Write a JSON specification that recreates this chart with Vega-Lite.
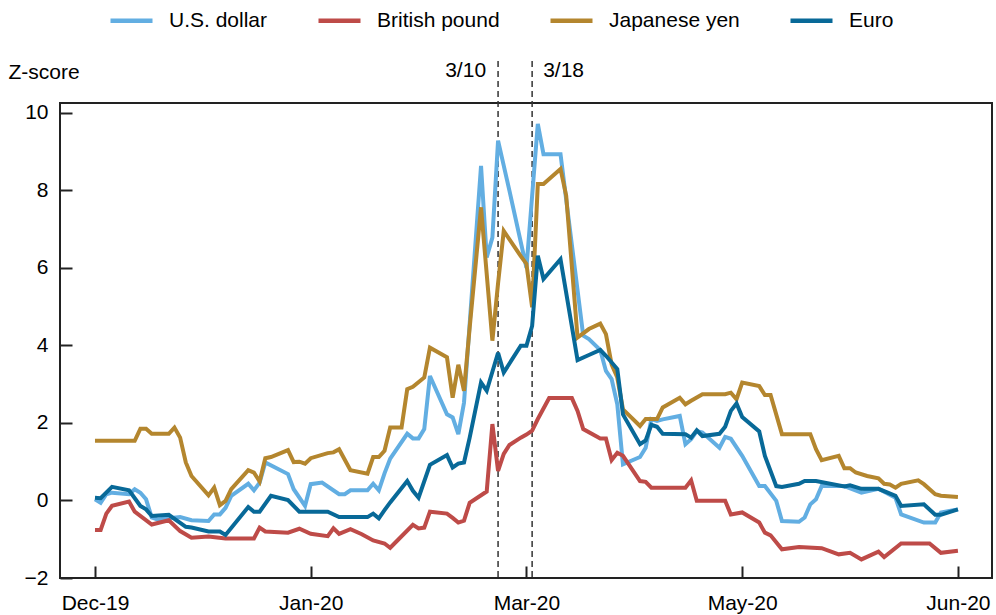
{
  "$schema": "https://vega.github.io/schema/vega-lite/v6.json",
  "autosize": {"type": "none"},
  "width": 932,
  "height": 475,
  "padding": {"left": 60, "top": 103, "right": 4, "bottom": 37},
  "config": {
    "font": "Liberation Sans",
    "view": {"stroke": "#222", "strokeWidth": 2},
    "axis": {"grid": false, "domain": false, "tickColor": "#222", "tickWidth": 2, "tickSize": -12, "labelFontSize": 21, "labelColor": "#000", "labelFont": "Liberation Sans"}
  },
  "datasets": {
    "fx": [
      {"s":"U.S. dollar","d":0,"z":0.03},{"s":"U.S. dollar","d":1,"z":-0.06},{"s":"U.S. dollar","d":2,"z":0.16},{"s":"U.S. dollar","d":3,"z":0.20},{"s":"U.S. dollar","d":6,"z":0.16},{"s":"U.S. dollar","d":7,"z":0.29},{"s":"U.S. dollar","d":8,"z":0.20},{"s":"U.S. dollar","d":9,"z":0.03},{"s":"U.S. dollar","d":10,"z":-0.44},{"s":"U.S. dollar","d":11,"z":-0.49},{"s":"U.S. dollar","d":15,"z":-0.43},{"s":"U.S. dollar","d":17,"z":-0.51},{"s":"U.S. dollar","d":20,"z":-0.53},{"s":"U.S. dollar","d":21,"z":-0.36},{"s":"U.S. dollar","d":22,"z":-0.36},{"s":"U.S. dollar","d":23,"z":-0.19},{"s":"U.S. dollar","d":24,"z":0.12},{"s":"U.S. dollar","d":27,"z":0.43},{"s":"U.S. dollar","d":28,"z":0.26},{"s":"U.S. dollar","d":29,"z":0.46},{"s":"U.S. dollar","d":30,"z":0.98},{"s":"U.S. dollar","d":34,"z":0.68},{"s":"U.S. dollar","d":35,"z":0.29},{"s":"U.S. dollar","d":37,"z":-0.14},{"s":"U.S. dollar","d":38,"z":0.42},{"s":"U.S. dollar","d":40,"z":0.46},{"s":"U.S. dollar","d":43,"z":0.16},{"s":"U.S. dollar","d":44,"z":0.16},{"s":"U.S. dollar","d":45,"z":0.26},{"s":"U.S. dollar","d":48,"z":0.26},{"s":"U.S. dollar","d":49,"z":0.43},{"s":"U.S. dollar","d":50,"z":0.26},{"s":"U.S. dollar","d":51,"z":0.7},{"s":"U.S. dollar","d":52,"z":1.08},{"s":"U.S. dollar","d":55,"z":1.72},{"s":"U.S. dollar","d":56,"z":1.60},{"s":"U.S. dollar","d":57,"z":1.60},{"s":"U.S. dollar","d":58,"z":1.84},{"s":"U.S. dollar","d":59,"z":3.21},{"s":"U.S. dollar","d":62,"z":2.22},{"s":"U.S. dollar","d":63,"z":2.14},{"s":"U.S. dollar","d":64,"z":1.71},{"s":"U.S. dollar","d":65,"z":2.52},{"s":"U.S. dollar","d":68,"z":8.63},{"s":"U.S. dollar","d":69,"z":6.27},{"s":"U.S. dollar","d":70,"z":6.78},{"s":"U.S. dollar","d":71,"z":9.28},{"s":"U.S. dollar","d":73,"z":7.99},{"s":"U.S. dollar","d":76,"z":6.0},{"s":"U.S. dollar","d":78,"z":9.71},{"s":"U.S. dollar","d":79,"z":8.93},{"s":"U.S. dollar","d":82,"z":8.93},{"s":"U.S. dollar","d":86,"z":4.25},{"s":"U.S. dollar","d":87,"z":4.16},{"s":"U.S. dollar","d":89,"z":3.88},{"s":"U.S. dollar","d":90,"z":3.34},{"s":"U.S. dollar","d":91,"z":3.13},{"s":"U.S. dollar","d":92,"z":2.48},{"s":"U.S. dollar","d":93,"z":0.93},{"s":"U.S. dollar","d":96,"z":1.12},{"s":"U.S. dollar","d":97,"z":1.36},{"s":"U.S. dollar","d":98,"z":2.10},{"s":"U.S. dollar","d":99,"z":2.05},{"s":"U.S. dollar","d":100,"z":2.09},{"s":"U.S. dollar","d":103,"z":2.18},{"s":"U.S. dollar","d":104,"z":1.45},{"s":"U.S. dollar","d":105,"z":1.58},{"s":"U.S. dollar","d":106,"z":1.79},{"s":"U.S. dollar","d":107,"z":1.75},{"s":"U.S. dollar","d":110,"z":1.36},{"s":"U.S. dollar","d":111,"z":1.64},{"s":"U.S. dollar","d":112,"z":1.59},{"s":"U.S. dollar","d":114,"z":1.15},{"s":"U.S. dollar","d":117,"z":0.37},{"s":"U.S. dollar","d":118,"z":0.37},{"s":"U.S. dollar","d":120,"z":-0.01},{"s":"U.S. dollar","d":121,"z":-0.53},{"s":"U.S. dollar","d":124,"z":-0.55},{"s":"U.S. dollar","d":125,"z":-0.44},{"s":"U.S. dollar","d":126,"z":-0.10},{"s":"U.S. dollar","d":127,"z":0.03},{"s":"U.S. dollar","d":128,"z":0.37},{"s":"U.S. dollar","d":132,"z":0.37},{"s":"U.S. dollar","d":135,"z":0.20},{"s":"U.S. dollar","d":138,"z":0.30},{"s":"U.S. dollar","d":141,"z":0.07},{"s":"U.S. dollar","d":142,"z":-0.36},{"s":"U.S. dollar","d":146,"z":-0.57},{"s":"U.S. dollar","d":148,"z":-0.57},{"s":"U.S. dollar","d":149,"z":-0.31},{"s":"U.S. dollar","d":152,"z":-0.23},
      {"s":"British pound","d":0,"z":-0.76},{"s":"British pound","d":1,"z":-0.76},{"s":"British pound","d":2,"z":-0.34},{"s":"British pound","d":3,"z":-0.14},{"s":"British pound","d":6,"z":-0.03},{"s":"British pound","d":7,"z":-0.29},{"s":"British pound","d":10,"z":-0.62},{"s":"British pound","d":13,"z":-0.51},{"s":"British pound","d":15,"z":-0.79},{"s":"British pound","d":17,"z":-0.96},{"s":"British pound","d":20,"z":-0.93},{"s":"British pound","d":23,"z":-0.98},{"s":"British pound","d":28,"z":-0.98},{"s":"British pound","d":29,"z":-0.70},{"s":"British pound","d":30,"z":-0.80},{"s":"British pound","d":34,"z":-0.83},{"s":"British pound","d":36,"z":-0.73},{"s":"British pound","d":38,"z":-0.86},{"s":"British pound","d":41,"z":-0.92},{"s":"British pound","d":42,"z":-0.72},{"s":"British pound","d":43,"z":-0.86},{"s":"British pound","d":45,"z":-0.74},{"s":"British pound","d":47,"z":-0.87},{"s":"British pound","d":49,"z":-1.03},{"s":"British pound","d":51,"z":-1.11},{"s":"British pound","d":52,"z":-1.22},{"s":"British pound","d":56,"z":-0.63},{"s":"British pound","d":57,"z":-0.72},{"s":"British pound","d":58,"z":-0.70},{"s":"British pound","d":59,"z":-0.29},{"s":"British pound","d":62,"z":-0.34},{"s":"British pound","d":63,"z":-0.45},{"s":"British pound","d":64,"z":-0.57},{"s":"British pound","d":65,"z":-0.52},{"s":"British pound","d":66,"z":-0.06},{"s":"British pound","d":69,"z":0.23},{"s":"British pound","d":70,"z":1.97},{"s":"British pound","d":71,"z":0.76},{"s":"British pound","d":72,"z":1.2},{"s":"British pound","d":73,"z":1.43},{"s":"British pound","d":75,"z":1.62},{"s":"British pound","d":76,"z":1.70},{"s":"British pound","d":77,"z":1.80},{"s":"British pound","d":78,"z":2.10},{"s":"British pound","d":80,"z":2.64},{"s":"British pound","d":84,"z":2.64},{"s":"British pound","d":85,"z":2.31},{"s":"British pound","d":86,"z":1.84},{"s":"British pound","d":89,"z":1.60},{"s":"British pound","d":90,"z":1.60},{"s":"British pound","d":91,"z":1.04},{"s":"British pound","d":92,"z":1.23},{"s":"British pound","d":93,"z":1.15},{"s":"British pound","d":96,"z":0.50},{"s":"British pound","d":97,"z":0.48},{"s":"British pound","d":98,"z":0.33},{"s":"British pound","d":104,"z":0.33},{"s":"British pound","d":105,"z":0.52},{"s":"British pound","d":106,"z":-0.01},{"s":"British pound","d":111,"z":-0.01},{"s":"British pound","d":112,"z":-0.36},{"s":"British pound","d":114,"z":-0.31},{"s":"British pound","d":117,"z":-0.57},{"s":"British pound","d":118,"z":-0.83},{"s":"British pound","d":119,"z":-0.90},{"s":"British pound","d":121,"z":-1.26},{"s":"British pound","d":124,"z":-1.20},{"s":"British pound","d":128,"z":-1.23},{"s":"British pound","d":131,"z":-1.39},{"s":"British pound","d":133,"z":-1.35},{"s":"British pound","d":135,"z":-1.52},{"s":"British pound","d":138,"z":-1.32},{"s":"British pound","d":139,"z":-1.46},{"s":"British pound","d":142,"z":-1.11},{"s":"British pound","d":147,"z":-1.11},{"s":"British pound","d":149,"z":-1.35},{"s":"British pound","d":152,"z":-1.30},
      {"s":"Japanese yen","d":0,"z":1.54},{"s":"Japanese yen","d":7,"z":1.54},{"s":"Japanese yen","d":8,"z":1.85},{"s":"Japanese yen","d":9,"z":1.85},{"s":"Japanese yen","d":10,"z":1.72},{"s":"Japanese yen","d":13,"z":1.72},{"s":"Japanese yen","d":14,"z":1.88},{"s":"Japanese yen","d":15,"z":1.62},{"s":"Japanese yen","d":16,"z":0.98},{"s":"Japanese yen","d":17,"z":0.63},{"s":"Japanese yen","d":20,"z":0.13},{"s":"Japanese yen","d":21,"z":0.33},{"s":"Japanese yen","d":22,"z":-0.12},{"s":"Japanese yen","d":23,"z":-0.01},{"s":"Japanese yen","d":24,"z":0.29},{"s":"Japanese yen","d":27,"z":0.78},{"s":"Japanese yen","d":28,"z":0.72},{"s":"Japanese yen","d":29,"z":0.49},{"s":"Japanese yen","d":30,"z":1.09},{"s":"Japanese yen","d":31,"z":1.12},{"s":"Japanese yen","d":34,"z":1.30},{"s":"Japanese yen","d":35,"z":0.99},{"s":"Japanese yen","d":36,"z":1.0},{"s":"Japanese yen","d":37,"z":0.95},{"s":"Japanese yen","d":38,"z":1.09},{"s":"Japanese yen","d":41,"z":1.22},{"s":"Japanese yen","d":42,"z":1.24},{"s":"Japanese yen","d":43,"z":1.32},{"s":"Japanese yen","d":45,"z":0.78},{"s":"Japanese yen","d":48,"z":0.69},{"s":"Japanese yen","d":49,"z":1.12},{"s":"Japanese yen","d":50,"z":1.12},{"s":"Japanese yen","d":51,"z":1.28},{"s":"Japanese yen","d":52,"z":1.88},{"s":"Japanese yen","d":54,"z":1.88},{"s":"Japanese yen","d":55,"z":2.87},{"s":"Japanese yen","d":56,"z":2.93},{"s":"Japanese yen","d":58,"z":3.17},{"s":"Japanese yen","d":59,"z":3.94},{"s":"Japanese yen","d":62,"z":3.69},{"s":"Japanese yen","d":63,"z":2.65},{"s":"Japanese yen","d":64,"z":3.5},{"s":"Japanese yen","d":65,"z":2.83},{"s":"Japanese yen","d":66,"z":4.46},{"s":"Japanese yen","d":68,"z":7.56},{"s":"Japanese yen","d":70,"z":4.12},{"s":"Japanese yen","d":71,"z":5.6},{"s":"Japanese yen","d":72,"z":6.95},{"s":"Japanese yen","d":75,"z":6.3},{"s":"Japanese yen","d":76,"z":6.1},{"s":"Japanese yen","d":77,"z":4.98},{"s":"Japanese yen","d":78,"z":8.16},{"s":"Japanese yen","d":79,"z":8.16},{"s":"Japanese yen","d":82,"z":8.55},{"s":"Japanese yen","d":83,"z":7.86},{"s":"Japanese yen","d":85,"z":4.20},{"s":"Japanese yen","d":87,"z":4.42},{"s":"Japanese yen","d":89,"z":4.56},{"s":"Japanese yen","d":90,"z":4.29},{"s":"Japanese yen","d":91,"z":3.51},{"s":"Japanese yen","d":92,"z":3.17},{"s":"Japanese yen","d":93,"z":2.35},{"s":"Japanese yen","d":96,"z":1.92},{"s":"Japanese yen","d":97,"z":2.10},{"s":"Japanese yen","d":99,"z":2.10},{"s":"Japanese yen","d":100,"z":2.40},{"s":"Japanese yen","d":103,"z":2.65},{"s":"Japanese yen","d":104,"z":2.48},{"s":"Japanese yen","d":105,"z":2.57},{"s":"Japanese yen","d":107,"z":2.74},{"s":"Japanese yen","d":111,"z":2.74},{"s":"Japanese yen","d":112,"z":2.78},{"s":"Japanese yen","d":113,"z":2.61},{"s":"Japanese yen","d":114,"z":3.04},{"s":"Japanese yen","d":117,"z":2.95},{"s":"Japanese yen","d":118,"z":2.72},{"s":"Japanese yen","d":119,"z":2.72},{"s":"Japanese yen","d":121,"z":1.71},{"s":"Japanese yen","d":126,"z":1.71},{"s":"Japanese yen","d":127,"z":1.32},{"s":"Japanese yen","d":128,"z":1.04},{"s":"Japanese yen","d":131,"z":1.15},{"s":"Japanese yen","d":132,"z":0.83},{"s":"Japanese yen","d":133,"z":0.83},{"s":"Japanese yen","d":134,"z":0.72},{"s":"Japanese yen","d":136,"z":0.63},{"s":"Japanese yen","d":138,"z":0.57},{"s":"Japanese yen","d":139,"z":0.43},{"s":"Japanese yen","d":140,"z":0.41},{"s":"Japanese yen","d":141,"z":0.33},{"s":"Japanese yen","d":142,"z":0.43},{"s":"Japanese yen","d":145,"z":0.52},{"s":"Japanese yen","d":146,"z":0.42},{"s":"Japanese yen","d":148,"z":0.16},{"s":"Japanese yen","d":149,"z":0.12},{"s":"Japanese yen","d":152,"z":0.09},
      {"s":"Euro","d":0,"z":0.07},{"s":"Euro","d":1,"z":0.06},{"s":"Euro","d":3,"z":0.35},{"s":"Euro","d":6,"z":0.26},{"s":"Euro","d":8,"z":-0.14},{"s":"Euro","d":9,"z":-0.23},{"s":"Euro","d":10,"z":-0.40},{"s":"Euro","d":13,"z":-0.37},{"s":"Euro","d":16,"z":-0.68},{"s":"Euro","d":17,"z":-0.70},{"s":"Euro","d":20,"z":-0.80},{"s":"Euro","d":22,"z":-0.80},{"s":"Euro","d":23,"z":-0.89},{"s":"Euro","d":27,"z":-0.17},{"s":"Euro","d":28,"z":-0.29},{"s":"Euro","d":29,"z":-0.29},{"s":"Euro","d":31,"z":0.12},{"s":"Euro","d":34,"z":0.01},{"s":"Euro","d":36,"z":-0.29},{"s":"Euro","d":41,"z":-0.29},{"s":"Euro","d":43,"z":-0.43},{"s":"Euro","d":48,"z":-0.43},{"s":"Euro","d":49,"z":-0.34},{"s":"Euro","d":50,"z":-0.46},{"s":"Euro","d":51,"z":-0.25},{"s":"Euro","d":52,"z":-0.05},{"s":"Euro","d":55,"z":0.50},{"s":"Euro","d":56,"z":0.25},{"s":"Euro","d":57,"z":0.07},{"s":"Euro","d":59,"z":0.92},{"s":"Euro","d":62,"z":1.17},{"s":"Euro","d":63,"z":0.85},{"s":"Euro","d":64,"z":0.95},{"s":"Euro","d":65,"z":0.98},{"s":"Euro","d":66,"z":1.62},{"s":"Euro","d":68,"z":3.04},{"s":"Euro","d":69,"z":2.83},{"s":"Euro","d":71,"z":3.81},{"s":"Euro","d":72,"z":3.30},{"s":"Euro","d":75,"z":3.99},{"s":"Euro","d":76,"z":3.99},{"s":"Euro","d":77,"z":4.5},{"s":"Euro","d":78,"z":6.31},{"s":"Euro","d":79,"z":5.71},{"s":"Euro","d":82,"z":6.22},{"s":"Euro","d":85,"z":3.62},{"s":"Euro","d":87,"z":3.75},{"s":"Euro","d":89,"z":3.88},{"s":"Euro","d":90,"z":3.73},{"s":"Euro","d":92,"z":3.39},{"s":"Euro","d":93,"z":2.22},{"s":"Euro","d":96,"z":1.45},{"s":"Euro","d":97,"z":1.55},{"s":"Euro","d":98,"z":1.95},{"s":"Euro","d":99,"z":1.90},{"s":"Euro","d":100,"z":1.72},{"s":"Euro","d":104,"z":1.71},{"s":"Euro","d":105,"z":1.62},{"s":"Euro","d":106,"z":1.81},{"s":"Euro","d":107,"z":1.66},{"s":"Euro","d":110,"z":1.72},{"s":"Euro","d":111,"z":1.90},{"s":"Euro","d":112,"z":2.31},{"s":"Euro","d":113,"z":2.50},{"s":"Euro","d":114,"z":2.15},{"s":"Euro","d":117,"z":1.78},{"s":"Euro","d":118,"z":1.15},{"s":"Euro","d":120,"z":0.37},{"s":"Euro","d":121,"z":0.35},{"s":"Euro","d":124,"z":0.43},{"s":"Euro","d":125,"z":0.50},{"s":"Euro","d":127,"z":0.50},{"s":"Euro","d":132,"z":0.36},{"s":"Euro","d":133,"z":0.39},{"s":"Euro","d":135,"z":0.30},{"s":"Euro","d":138,"z":0.30},{"s":"Euro","d":141,"z":0.12},{"s":"Euro","d":142,"z":-0.14},{"s":"Euro","d":146,"z":-0.10},{"s":"Euro","d":148,"z":-0.37},{"s":"Euro","d":149,"z":-0.37},{"s":"Euro","d":152,"z":-0.23}
    ],
    "events": [{"m":"3/10","d":71},{"m":"3/18","d":77}]
  },
  "layer": [
    {
      "data": {"name": "events"},
      "mark": {"type": "rule", "color": "#333", "strokeWidth": 1.5, "strokeDash": [6, 4]},
      "encoding": {
        "x": {"field": "d", "type": "quantitative"},
        "y": {"datum": 11.33, "type": "quantitative"},
        "y2": {"datum": -2}
      }
    },
    {
      "data": {"name": "fx"},
      "mark": {"type": "line", "strokeWidth": 4, "strokeJoin": "miter", "strokeMiterLimit": 3},
      "encoding": {
        "x": {"field": "d", "type": "quantitative", "scale": {"domain": [-6.16, 158], "nice": false, "zero": false},
          "axis": {"title": null, "values": [0, 38, 76, 114, 152], "labelPadding": 26,
            "labelExpr": "datum.value == 0 ? 'Dec-19' : datum.value == 38 ? 'Jan-20' : datum.value == 76 ? 'Mar-20' : datum.value == 114 ? 'May-20' : 'Jun-20'"}},
        "y": {"field": "z", "type": "quantitative", "scale": {"domain": [-2, 10.25], "nice": false, "zero": false},
          "axis": {"values": [-2, 0, 2, 4, 6, 8, 10], "labelPadding": 24, "title": "Z-score", "titleAngle": 0, "titleX": -52, "titleY": -31, "titleAlign": "left", "titleBaseline": "middle", "titleFontSize": 21, "titleFontWeight": "normal", "titleColor": "#000", "titleFont": "Liberation Sans"}},
        "color": {"field": "s", "type": "nominal",
          "scale": {"domain": ["U.S. dollar", "British pound", "Japanese yen", "Euro"], "range": ["#62AEE2", "#BE4B48", "#B4862E", "#086998"]},
          "legend": {"title": null, "orient": "none", "legendX": 48, "legendY": -106, "direction": "horizontal", "symbolType": "stroke", "symbolSize": 1764, "symbolStrokeWidth": 4.5, "labelFontSize": 21, "labelFont": "Liberation Sans", "labelColor": "#000", "columnPadding": 41, "labelOffset": 14, "padding": 0}},
        "order": {"field": "d", "type": "quantitative"}
      }
    },
    {
      "data": {"name": "events"},
      "transform": [{"filter": "datum.m == '3/10'"}],
      "mark": {"type": "text", "align": "right", "baseline": "middle", "dx": -12, "fontSize": 21, "font": "Liberation Sans", "color": "#000"},
      "encoding": {
        "x": {"field": "d", "type": "quantitative"},
        "y": {"datum": 11.08, "type": "quantitative"},
        "text": {"field": "m"}
      }
    },
    {
      "data": {"name": "events"},
      "transform": [{"filter": "datum.m == '3/18'"}],
      "mark": {"type": "text", "align": "left", "baseline": "middle", "dx": 11, "fontSize": 21, "font": "Liberation Sans", "color": "#000"},
      "encoding": {
        "x": {"field": "d", "type": "quantitative"},
        "y": {"datum": 11.08, "type": "quantitative"},
        "text": {"field": "m"}
      }
    }
  ]
}
